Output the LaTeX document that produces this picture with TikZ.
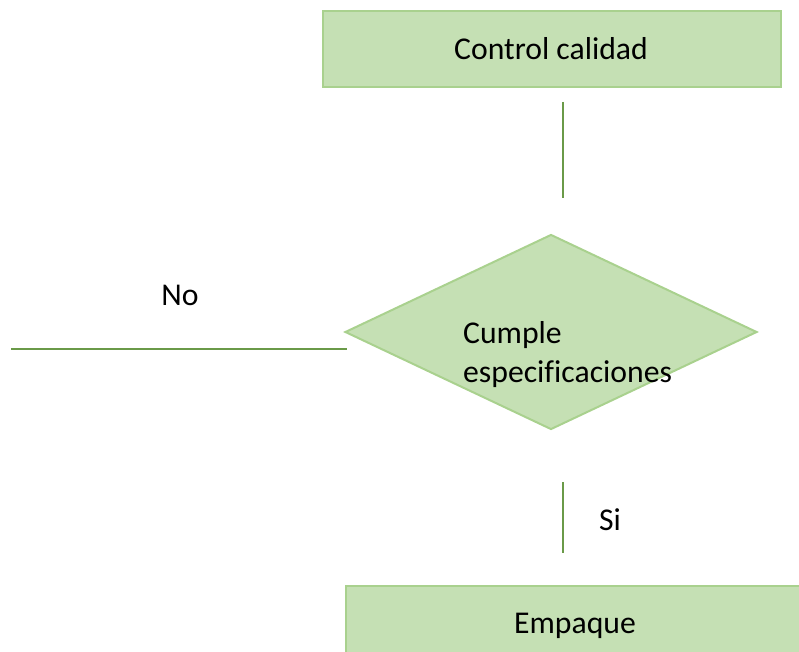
\documentclass[tikz,border=0pt]{standalone}
\usepackage{fontspec}
\setmainfont[Ligatures=NoCommon]{Carlito}
\usetikzlibrary{shapes.geometric}
\definecolor{boxfill}{HTML}{C5E0B4}
\definecolor{boxline}{HTML}{A9D18E}
\definecolor{conn}{HTML}{6A9A48}
\tikzset{
  procbox/.style={draw=boxline, fill=boxfill, line width=2pt, minimum width=458pt, minimum height=76pt, inner sep=0pt, anchor=north west},
  decide/.style={diamond, draw=boxline, fill=boxfill, line width=2pt, minimum width=412pt, minimum height=195pt, inner sep=0pt},
  lbl/.style={font=\fontsize{31.7}{38.7}\selectfont, text=black, inner sep=0pt},
  connector/.style={draw=conn, line width=1.2pt}
}
\begin{document}
\begin{tikzpicture}[x=1pt,y=-1pt]
\useasboundingbox (0,0) rectangle (799,652);
\clip (0,0) rectangle (799,652);
\node[procbox] (cc) at (322,10) {};
\node[lbl, anchor=base] (cct) at (551,60) {Control calidad};
\node[decide] (d) at (551,332) {};
\node[lbl, anchor=base west, align=left] (dt1) at (463,343) {Cumple};
\node[lbl, anchor=base west, align=left] (dt2) at (463,382) {especificaciones};
\node[procbox] (em) at (345,585) {};
\node[lbl, anchor=base] (emt) at (575,633) {Empaque};
\node[lbl, anchor=base] (no) at (180,305) {No};
\node[lbl, anchor=base] (si) at (610,530) {Si};
\coordinate (a1) at (563,102);
\coordinate (a2) at (563,198);
\coordinate (b1) at (563,482);
\coordinate (b2) at (563,553);
\coordinate (c1) at (11,349);
\coordinate (c2) at (347,349);
\draw[connector] (a1) -- (a2);
\draw[connector] (b1) -- (b2);
\draw[connector] (c1) -- (c2);
\end{tikzpicture}
\end{document}
